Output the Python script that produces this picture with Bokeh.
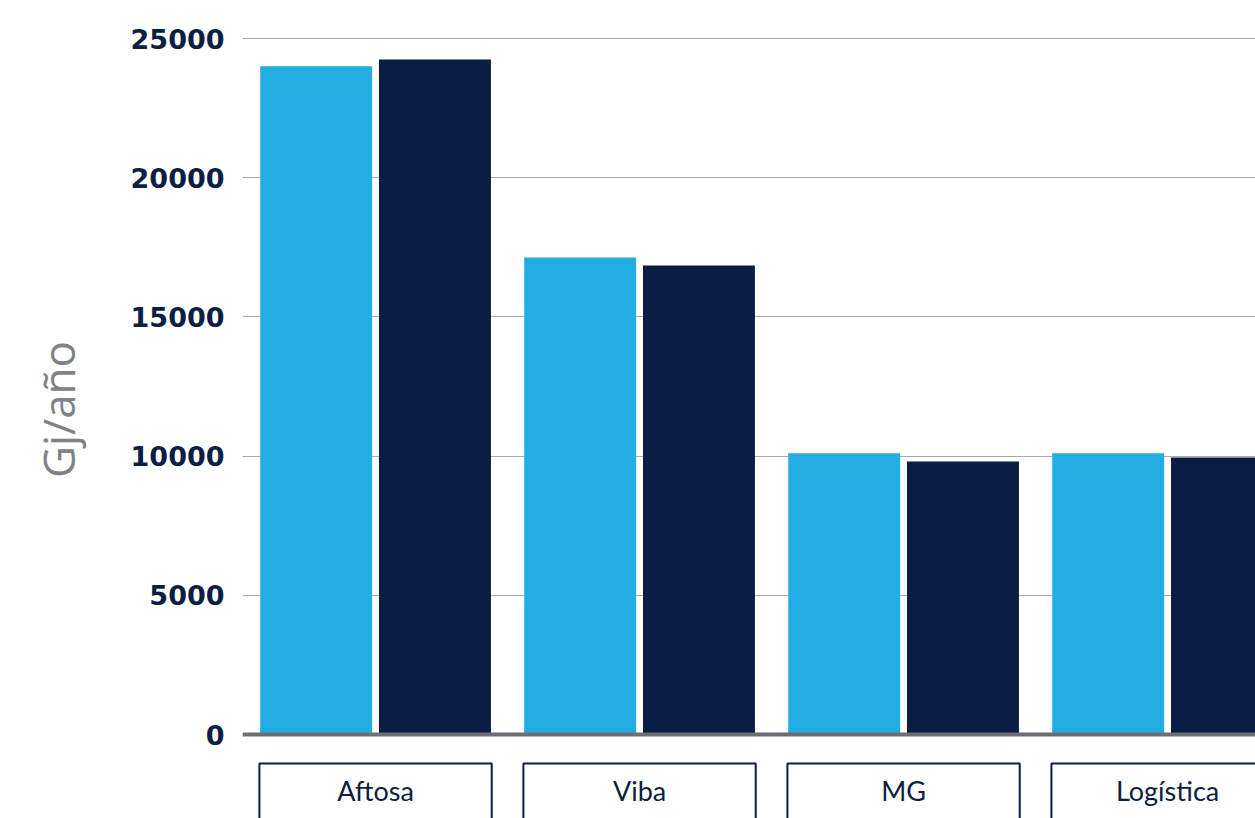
from bokeh.plotting import figure
from bokeh.models import Range1d, FixedTicker, Span, ColumnDataSource
from bokeh.core.properties import value
from bokeh.embed import file_html
from bokeh.resources import INLINE

categories = ["Aftosa", "Viba", "MG", "Logística"]
serie_a = [24000, 17130, 10100, 10100]
serie_b = [24250, 16850, 9810, 9950]
y_ticks = [0, 5000, 10000, 15000, 20000, 25000]
y_title = "Gj/año"

LIGHT = "#22AEE2"
DARK = "#0A1D42"
NAVY = "#0B1E43"

idx = list(range(len(categories)))
src = ColumnDataSource(dict(
    x=idx,
    xa=[i - 0.225 for i in idx],
    xb=[i + 0.225 for i in idx],
    a=serie_a,
    b=serie_b,
    cat=categories,
    box_l=[i - 0.44 for i in idx],
    box_r=[i + 0.44 for i in idx],
    box_top=[-1040] * len(idx),
    box_bot=[-6000] * len(idx),
    label_y=[-2010] * len(idx),
))

p = figure(width=1255, height=818, output_backend="svg", toolbar_location=None,
           x_range=Range1d(-0.504, 3.333), y_range=Range1d(-3017, 26365),
           x_axis_location=None, min_border_left=242, min_border_right=0,
           min_border_top=0, min_border_bottom=0)
p.outline_line_color = None
p.xgrid.visible = False
p.ygrid.ticker = FixedTicker(ticks=y_ticks)
p.ygrid.grid_line_color = "#A7A9AC"
p.ygrid.grid_line_width = 1

ax = p.yaxis[0]
ax.ticker = FixedTicker(ticks=y_ticks)
ax.axis_line_color = None
ax.major_tick_line_color = None
ax.minor_tick_line_color = None
ax.major_label_standoff = 12
ax.major_label_text_font = "DejaVu Sans"
ax.major_label_text_font_style = "bold"
ax.major_label_text_font_size = "27px"
ax.major_label_text_color = NAVY
ax.axis_label = y_title
ax.axis_label_text_font = "Open Sans"
ax.axis_label_text_font_style = "normal"
ax.axis_label_text_font_size = "44px"
ax.axis_label_text_color = "#808285"
ax.axis_label_standoff = 40

p.vbar(x="xa", top="a", bottom=0, width=0.424, source=src, color=LIGHT, line_color=None)
p.vbar(x="xb", top="b", bottom=0, width=0.424, source=src, color=DARK, line_color=None)

p.add_layout(Span(location=0, dimension="width", line_color="#6D6E71", line_width=4))

p.quad(left="box_l", right="box_r", top="box_top", bottom="box_bot", source=src,
       fill_color="white", line_color=NAVY, line_width=2)
p.text(x="x", y="label_y", text="cat", source=src, text_align="center",
       text_baseline="middle", text_font=value("Lato"), text_font_size="27px",
       text_color=NAVY)

open("out.html", "w").write(file_html(p, INLINE))
